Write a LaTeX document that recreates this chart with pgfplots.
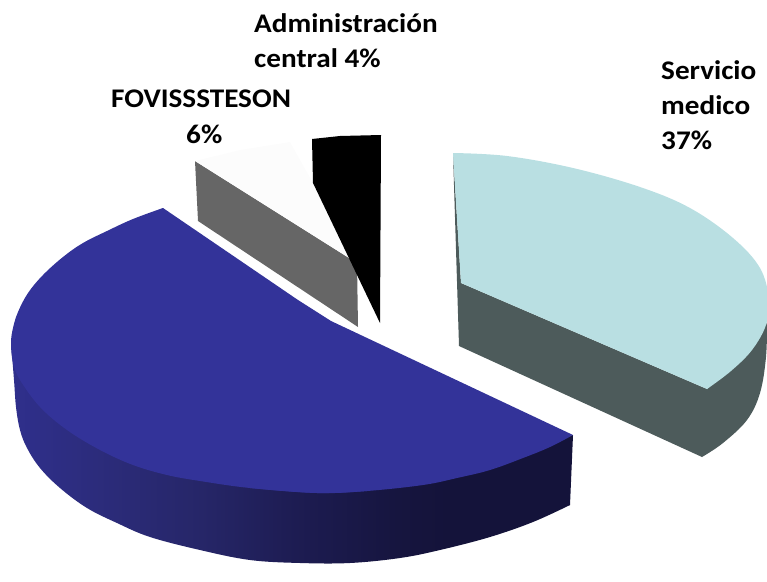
\documentclass[border=0pt]{standalone}
\usepackage{pgfplots}
\usepackage{fontspec}
\setmainfont{Carlito}
\pgfplotsset{compat=1.18}
\definecolor{bluetop}{HTML}{333399}
\definecolor{tealtop}{HTML}{B9DFE2}
\definecolor{tealside}{HTML}{4D5B5B}
\definecolor{whitetop}{HTML}{FCFCFC}
\definecolor{grayside}{HTML}{666666}
\definecolor{bs1}{HTML}{2F2F8C}
\definecolor{bs2}{HTML}{2C2C7C}
\definecolor{bs3}{HTML}{262668}
\definecolor{bs4}{HTML}{1D1C52}
\definecolor{bs5}{HTML}{16153F}
\definecolor{bs6}{HTML}{14133A}
% path bbox is fitted to the 25bp..75bp part of a shading
\pgfdeclarehorizontalshading{blueside}{100bp}{
  color(0bp)=(bs1); color(25bp)=(bs1); color(32.5bp)=(bs2); color(42bp)=(bs3);
  color(50.5bp)=(bs4); color(59.5bp)=(bs5); color(64bp)=(bs6); color(100bp)=(bs6)}
\newcommand{\lab}[3]{\node[anchor=base west,inner sep=0pt,xscale=1.085,transform shape,font=\fontsize{27}{30}\selectfont\bfseries] at (axis cs:#1,#2) {#3};}
\begin{document}
\begin{tikzpicture}
\begin{axis}[
  scale only axis,
  width=767bp, height=582bp,
  xmin=0, xmax=767, ymin=0, ymax=582,
  y dir=reverse,
  hide axis,
  clip=true]

% servicio medico: side, then top (arcs are open smooth paths, the rest plain polygons)
\addplot[fill=tealside,draw=none,smooth,tension=0.6] coordinates {
  (702,457) (723,443) (747,420) (760,393) (766,357) (767,323)};
\addplot[fill=tealside,draw=none] coordinates {
  (453,153) (459,346) (702,457) (740,410) (767,323) (707,389) (461,283)} -- cycle;
\addplot[fill=tealtop,draw=none,smooth,tension=0.6] coordinates {
  (453,153) (507,156) (573,168) (640,187) (690,208) (733,238) (760,268) (769,300)
  (766,325) (752,350) (731,371) (707,389)};
\addplot[fill=tealtop,draw=none] coordinates {
  (453,153) (461,283) (707,389) (745,340) (720,250) (600,190)} -- cycle;

% largest slice
\addplot[shading=blueside,draw=none,smooth,tension=0.6] coordinates {
  (11,343) (14,380) (16,407) (20,430) (27,448) (40,468) (60,488) (87,508) (117,523)
  (150,537) (200,550) (250,560) (300,563) (350,563) (400,558) (440,550) (490,537)
  (533,522) (570,505)};
\addplot[fill=bs6,draw=none] coordinates {
  (455,470) (573,435) (570,505) (455,530)} -- cycle;
\addplot[fill=bluetop,draw=none,smooth,tension=0.6] coordinates {
  (163,208) (133,219) (107,231) (83,243) (63,257) (43,275) (28,293) (18,312) (13,328) (11,343)
  (13,363) (20,380) (40,407) (67,430) (100,450) (133,465) (167,475) (200,481) (250,488)
  (317,493) (367,491)};
\addplot[fill=bluetop,draw=none,smooth,tension=0.6] coordinates {
  (250,488) (317,493) (367,491) (423,485) (457,478) (490,470) (523,458) (550,447) (573,435)};
\addplot[fill=bluetop,draw=none] coordinates {
  (163,208) (298,300) (331,321) (573,435) (400,480) (300,485) (150,450) (50,380) (30,320) (100,245)} -- cycle;

% fovissteson
\addplot[fill=grayside,draw=none] coordinates {
  (195,161) (357,263) (358,327) (198,221)} -- cycle;
\addplot[fill=whitetop,draw=none] coordinates {
  (195,161) (240,150) (290,142) (313,183) (357,263)} -- cycle;

% administracion central
\addplot[fill=black,draw=none] coordinates {
  (312,139) (340,136) (381,135) (380,323) (313,183)} -- cycle;

\lab{254}{33}{Administración}
\lab{254}{68}{central 4\%}
\lab{111}{107}{FOVISSSTESON}
\lab{186}{143}{6\%}
\lab{661}{80}{Servicio}
\lab{661}{114}{medico}
\lab{661}{149}{37\%}
\end{axis}
\path (current axis.south west) rectangle (current axis.north east);
\end{tikzpicture}
\end{document}
